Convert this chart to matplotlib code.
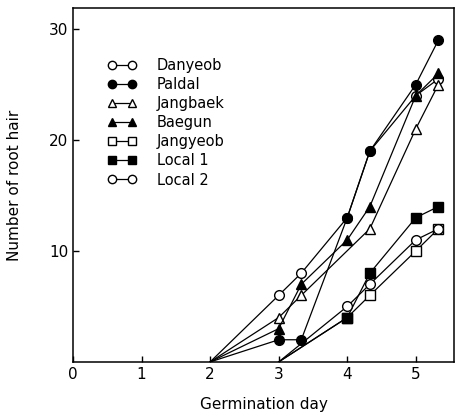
import matplotlib
matplotlib.use("Agg")
import matplotlib.pyplot as plt

# germination day / number of root hair
day_a = [2, 3, 3.33, 4, 4.33, 5, 5.33]
day_jb = [2, 3, 3.33, 4.33, 5, 5.33]
day_b = [3, 4, 4.33, 5, 5.33]

danyeob = [0, 6, 8, 13, 19, 24, 25.5]
paldal = [0, 2, 2, 13, 19, 25, 29]
jangbaek = [0, 4, 6, 12, 21, 25]
baegun = [0, 3, 7, 11, 14, 24, 26]
jangyeob = [0, 4, 6, 10, 12]
local1 = [0, 4, 8, 13, 14]
local2 = [0, 5, 7, 11, 12]

series = [
    ("Danyeob", day_a, danyeob, "o", "white"),
    ("Paldal", day_a, paldal, "o", "black"),
    ("Jangbaek", day_jb, jangbaek, "^", "white"),
    ("Baegun", day_a, baegun, "^", "black"),
    ("Jangyeob", day_b, jangyeob, "s", "white"),
    ("Local 1", day_b, local1, "s", "black"),
    ("Local 2", day_b, local2, "o", "white"),
]

plt.rcParams["font.family"] = "DejaVu Sans"

fig = plt.figure(figsize=(4.56, 4.17), dpi=100)
ax = fig.add_axes([0.16, 0.132, 0.836, 0.849])

for name, x, y, m, fc in series:
    ax.plot(x, y, color="black", lw=0.9, marker=m, ms=7, mfc=fc, mec="black",
            mew=1.0, markevery=slice(1, None), label=name)

ax.set_xlim(0, 5.56)
ax.set_ylim(0, 31.9)
ax.set_xticks([0, 1, 2, 3, 4, 5])
ax.set_yticks([10, 20, 30])
ax.tick_params(direction="in", labelsize=11, length=4, width=1)
for s in ax.spines.values():
    s.set_linewidth(1.1)

ax.set_xlabel("Germination day", fontsize=11, labelpad=11)
ax.set_ylabel("Number of root hair", fontsize=11, labelpad=19)

leg = ax.legend(loc="upper left", bbox_to_anchor=(0.075, 0.875), frameon=False,
                numpoints=2, fontsize=10.5, handlelength=2.0, handletextpad=1.4,
                labelspacing=0.28, borderaxespad=0)
for h in leg.legend_handles:
    h.set_markersize(6)
    h.set_markevery(None)

fig.savefig("out.png", dpi=100)
